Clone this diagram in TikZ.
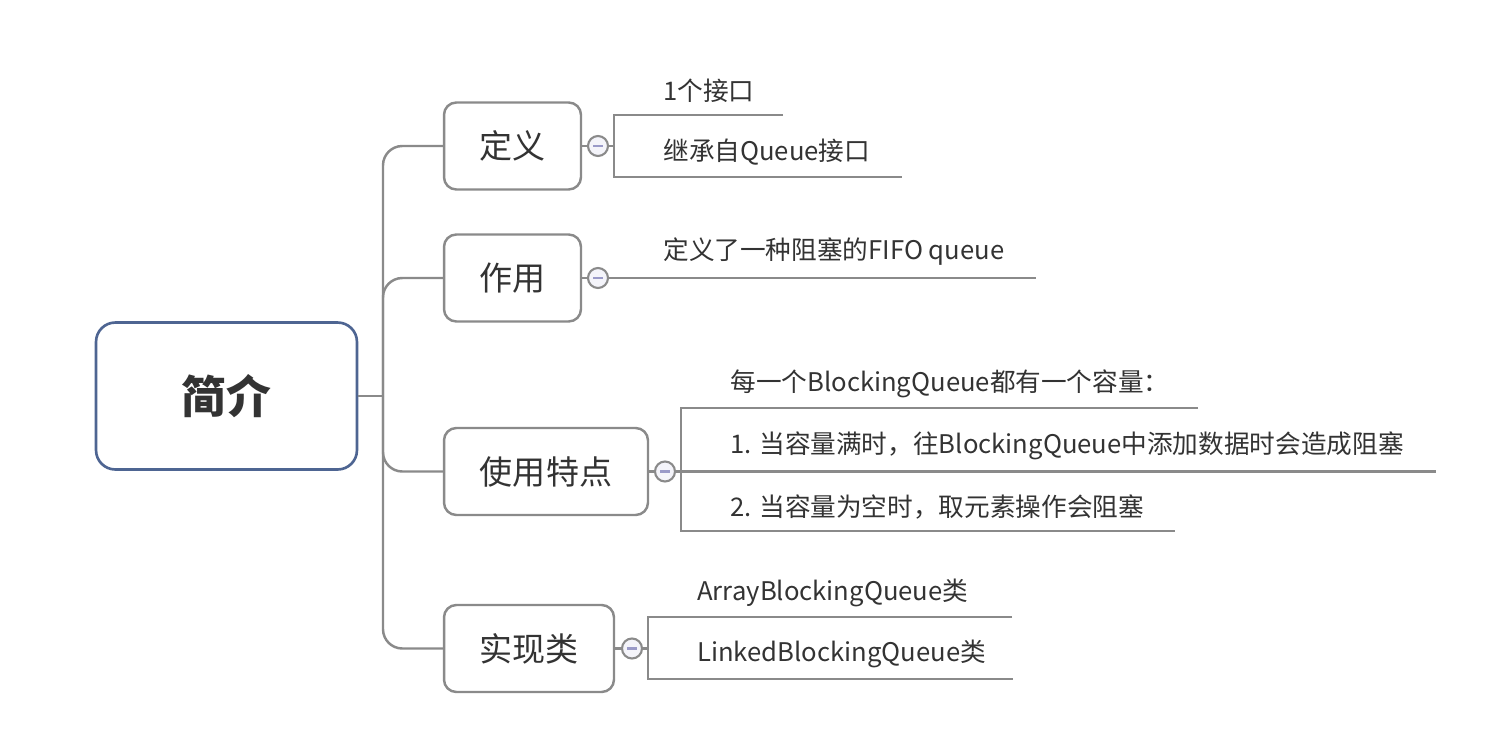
\documentclass[tikz,border=0pt]{standalone}
\usepackage{fontspec}
\setmainfont{Noto Sans CJK SC}
\definecolor{linegray}{HTML}{8A8A8A}
\definecolor{rootblue}{HTML}{4E6592}
\definecolor{txt}{HTML}{333333}
\definecolor{minusc}{HTML}{9A9AC8}
\definecolor{circfill}{HTML}{F4F4FA}
\begin{document}
\begin{tikzpicture}[x=0.02cm,y=-0.02cm,
  line/.style={draw=linegray, line width=1.4pt},
  rootbox/.style={draw=rootblue, line width=1.5pt, rounded corners=11pt, fill=white,
    minimum width=5.22cm, minimum height=2.94cm, text=txt, font=\fontsize{25.5}{30}\selectfont\bfseries},
  branch/.style={draw=linegray, line width=1.4pt, rounded corners=7pt, fill=white,
    minimum height=1.74cm, text=txt, font=\fontsize{18.8}{22}\selectfont},
  toggle/.style={circle, draw=linegray, line width=1.2pt, fill=circfill, minimum size=0.4cm, inner sep=0pt},
  minusbar/.style={draw=minusc, line width=1.3pt},
  leaf/.style={anchor=west, inner sep=0pt, text=txt, font=\fontsize{14.6}{17}\selectfont}
]
\useasboundingbox (0,0) rectangle (1500,754);

% root and branches
\node[rootbox] (root) at (226.5,396) {简介};
\node[branch, minimum width=2.74cm] (b1) at (512.5,146) {定义};
\node[branch, minimum width=2.74cm] (b2) at (512.5,278) {作用};
\node[branch, minimum width=4.08cm] (b3) at (546,471.5) {使用特点};
\node[branch, minimum width=3.40cm] (b4) at (529,648.5) {实现类};

% trunk
\coordinate (j) at (383,396);
\draw[line] (root.east) -- (j);
\foreach \b in {b1,b2,b3,b4}{
  \draw[line, rounded corners=11pt] (j) |- (\b.west);
}

% toggles
\node[toggle] (c1) at (598,146) {};
\node[toggle] (c2) at (598,278) {};
\node[toggle] (c3) at (665,471.5) {};
\node[toggle] (c4) at (632,648.5) {};
\foreach \c in {c1,c2,c3,c4}{
  \draw[minusbar] (\c.center) ++(-5,0) -- ++(10,0);
}
\draw[line] (b1.east) -- (c1.west);
\draw[line] (b2.east) -- (c2.west);
\draw[line] (b3.east) -- (c3.west);
\draw[line] (b4.east) -- (c4.west);

% 定义 children
\coordinate (d-top) at (614,115);
\coordinate (d-bot) at (614,177);
\coordinate (d-top-end) at (783,115);
\coordinate (d-bot-end) at (902,177);
\draw[line] (c1.east) -- (c1.east -| d-top);
\draw[line] (d-top-end) -- (d-top) -- (d-bot) -- (d-bot-end);
\node[leaf] (l11) at (663,91) {1个接口};
\node[leaf] (l12) at (663,152) {继承自Queue接口};

% 作用 child
\coordinate (z-end) at (1036,278);
\draw[line] (c2.east) -- (z-end);
\node[leaf] (l21) at (663,252) {定义了一种阻塞的FIFO queue};

% 使用特点 children
\coordinate (s-top) at (681,408);
\coordinate (s-bot) at (681,531);
\coordinate (s-top-end) at (1198,408);
\coordinate (s-mid-end) at (1436,471.5);
\coordinate (s-bot-end) at (1175,531);
\draw[line] (s-top-end) -- (s-top) -- (s-bot) -- (s-bot-end);
\draw[line] (c3.east) -- (s-mid-end);
\node[leaf] (l31) at (730,384) {每一个BlockingQueue都有一个容量：};
\node[leaf] (l32) at (730,446) {1. 当容量满时，往BlockingQueue中添加数据时会造成阻塞};
\node[leaf] (l33) at (730,507) {2. 当容量为空时，取元素操作会阻塞};

% 实现类 children
\coordinate (r-top) at (648,617);
\coordinate (r-bot) at (648,679);
\coordinate (r-top-end) at (1012,617);
\coordinate (r-bot-end) at (1013,679);
\draw[line] (c4.east) -- (c4.east -| r-top);
\draw[line] (r-top-end) -- (r-top) -- (r-bot) -- (r-bot-end);
\node[leaf] (l41) at (697,593) {ArrayBlockingQueue类};
\node[leaf] (l42) at (697,654) {LinkedBlockingQueue类};
\end{tikzpicture}
\end{document}
